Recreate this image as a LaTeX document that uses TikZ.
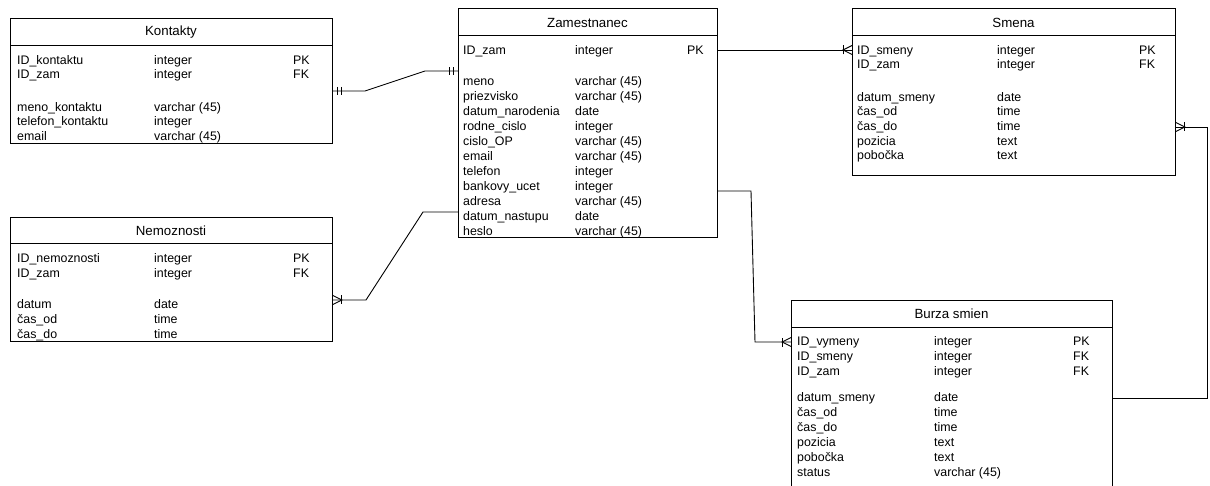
\documentclass[tikz,border=0pt]{standalone}
\usepackage{fontspec}
\setmainfont{Liberation Sans}
\begin{document}
\begin{tikzpicture}[x=1pt,y=-1pt,
  tbl/.style={draw=black,line width=0.9pt,anchor=north west,inner sep=0pt,fill=none},
  ttl/.style={anchor=center,inner sep=0pt,font=\fontsize{13.3}{15}\selectfont},
  cell/.style={anchor=base west,inner sep=0pt,font=\fontsize{12.4}{15}\selectfont},
  conn/.style={draw=black,line width=0.9pt},
  crow/.pic={\draw[line width=0.9pt] (0,-4.5) -- (9,0) -- (0,4.5); \draw[line width=0.9pt] (9,-4.5) -- (9,4.5);},
  mandone/.pic={\draw[line width=0.9pt] (5,-4) -- (5,4); \draw[line width=0.9pt] (9,-4) -- (9,4);}
]
\useasboundingbox (0,0) rectangle (1210,486);
\clip (0,0) rectangle (1210,486);
\fill[white] (0,0) rectangle (1210,486);

% row macro: #1 table, #2 index, #3 center y, #4/#5/#6 x cols, #7 name, #8 type, #9 key
\newcommand\tabrow[9]{%
  \node[cell] (#1-n#2) at (#4,#3+4.5) {#7};
  \node[cell] (#1-t#2) at (#5,#3+4.5) {#8};
  \node[cell] (#1-k#2) at (#6,#3+4.5) {#9};}

% ---------- Kontakty ----------
\node[tbl,minimum width=322,minimum height=125] (kont) at (10,18) {};
\draw[line width=0.9pt] (10,45) -- (332,45);
\node[ttl] (kont-title) at (171,32.5) {Kontakty};
\tabrow{ko}{1}{60}{17}{154}{293}{ID\_kontaktu}{integer}{PK}
\tabrow{ko}{2}{74}{17}{154}{293}{ID\_zam}{integer}{FK}
\tabrow{ko}{3}{107}{17}{154}{293}{meno\_kontaktu}{varchar (45)}{}
\tabrow{ko}{4}{121}{17}{154}{293}{telefon\_kontaktu}{integer}{}
\tabrow{ko}{5}{136}{17}{154}{293}{email}{varchar (45)}{}

% ---------- Nemoznosti ----------
\node[tbl,minimum width=322,minimum height=124] (nem) at (10,217) {};
\draw[line width=0.9pt] (10,243) -- (332,243);
\node[ttl] (nem-title) at (171,231) {Nemoznosti};
\tabrow{ne}{1}{258}{17}{154}{293}{ID\_nemoznosti}{integer}{PK}
\tabrow{ne}{2}{273}{17}{154}{293}{ID\_zam}{integer}{FK}
\tabrow{ne}{3}{304}{17}{154}{293}{datum}{date}{}
\tabrow{ne}{4}{319}{17}{154}{293}{čas\_od}{time}{}
\tabrow{ne}{5}{334}{17}{154}{293}{čas\_do}{time}{}

% ---------- Zamestnanec ----------
\node[tbl,minimum width=259,minimum height=229] (zam) at (458,8) {};
\draw[line width=0.9pt] (458,35) -- (717,35);
\node[ttl] (zam-title) at (587.5,22.5) {Zamestnanec};
\tabrow{za}{1}{50}{463}{575}{687}{ID\_zam}{integer}{PK}
\tabrow{za}{2}{81}{463}{575}{687}{meno}{varchar (45)}{}
\tabrow{za}{3}{96}{463}{575}{687}{priezvisko}{varchar (45)}{}
\tabrow{za}{4}{111}{463}{575}{687}{datum\_narodenia}{date}{}
\tabrow{za}{5}{126}{463}{575}{687}{rodne\_cislo}{integer}{}
\tabrow{za}{6}{141}{463}{575}{687}{cislo\_OP}{varchar (45)}{}
\tabrow{za}{7}{156}{463}{575}{687}{email}{varchar (45)}{}
\tabrow{za}{8}{171}{463}{575}{687}{telefon}{integer}{}
\tabrow{za}{9}{186}{463}{575}{687}{bankovy\_ucet}{integer}{}
\tabrow{za}{10}{201}{463}{575}{687}{adresa}{varchar (45)}{}
\tabrow{za}{11}{216}{463}{575}{687}{datum\_nastupu}{date}{}
\tabrow{za}{12}{231}{463}{575}{687}{heslo}{varchar (45)}{}

% ---------- Smena ----------
\node[tbl,minimum width=323,minimum height=167] (sme) at (852,8) {};
\draw[line width=0.9pt] (852,35) -- (1175,35);
\node[ttl] (sme-title) at (1013.5,22.5) {Smena};
\tabrow{sm}{1}{50}{857}{997}{1139}{ID\_smeny}{integer}{PK}
\tabrow{sm}{2}{64}{857}{997}{1139}{ID\_zam}{integer}{FK}
\tabrow{sm}{3}{97}{857}{997}{1139}{datum\_smeny}{date}{}
\tabrow{sm}{4}{111}{857}{997}{1139}{čas\_od}{time}{}
\tabrow{sm}{5}{126}{857}{997}{1139}{čas\_do}{time}{}
\tabrow{sm}{6}{141}{857}{997}{1139}{pozicia}{text}{}
\tabrow{sm}{7}{155}{857}{997}{1139}{pobočka}{text}{}

% ---------- Burza smien ----------
\node[tbl,minimum width=321,minimum height=200] (bur) at (791,300) {};
\draw[line width=0.9pt] (791,327) -- (1112,327);
\node[ttl] (bur-title) at (951.5,314) {Burza smien};
\tabrow{bu}{1}{341}{797}{934}{1073}{ID\_vymeny}{integer}{PK}
\tabrow{bu}{2}{356}{797}{934}{1073}{ID\_smeny}{integer}{FK}
\tabrow{bu}{3}{371}{797}{934}{1073}{ID\_zam}{integer}{FK}
\tabrow{bu}{4}{397}{797}{934}{1073}{datum\_smeny}{date}{}
\tabrow{bu}{5}{412}{797}{934}{1073}{čas\_od}{time}{}
\tabrow{bu}{6}{427}{797}{934}{1073}{čas\_do}{time}{}
\tabrow{bu}{7}{442}{797}{934}{1073}{pozicia}{text}{}
\tabrow{bu}{8}{457}{797}{934}{1073}{pobočka}{text}{}
\tabrow{bu}{9}{472}{797}{934}{1073}{status}{varchar (45)}{}

% ---------- connectors ----------
% Kontakty -- Zamestnanec
\draw[conn] (kont.east |- 0,91) -- (365,91) -- (425,71) -- (zam.west |- 0,71);
\pic at (kont.east |- 0,91) {mandone};
\pic[rotate=180] at (zam.west |- 0,71) {mandone};
% Nemoznosti -- Zamestnanec
\draw[conn] (nem.east |- 0,300) -- (366,300) -- (423,212) -- (zam.west |- 0,212);
\pic at (nem.east |- 0,300) {crow};
% Zamestnanec -- Smena
\draw[conn] (zam.east |- 0,50) -- (sme.west |- 0,50);
\pic[rotate=180] at (sme.west |- 0,50) {crow};
% Zamestnanec -- Burza smien
\draw[conn] (zam.east |- 0,191) -- (751,191) -- (755,342) -- (bur.west |- 0,342);
\pic[rotate=180] at (bur.west |- 0,342) {crow};
% Burza smien -- Smena
\draw[conn] (bur.east |- 0,398) -- (1207,398) -- (1207,127) -- (sme.east |- 0,127);
\pic at (sme.east |- 0,127) {crow};
\end{tikzpicture}
\end{document}
